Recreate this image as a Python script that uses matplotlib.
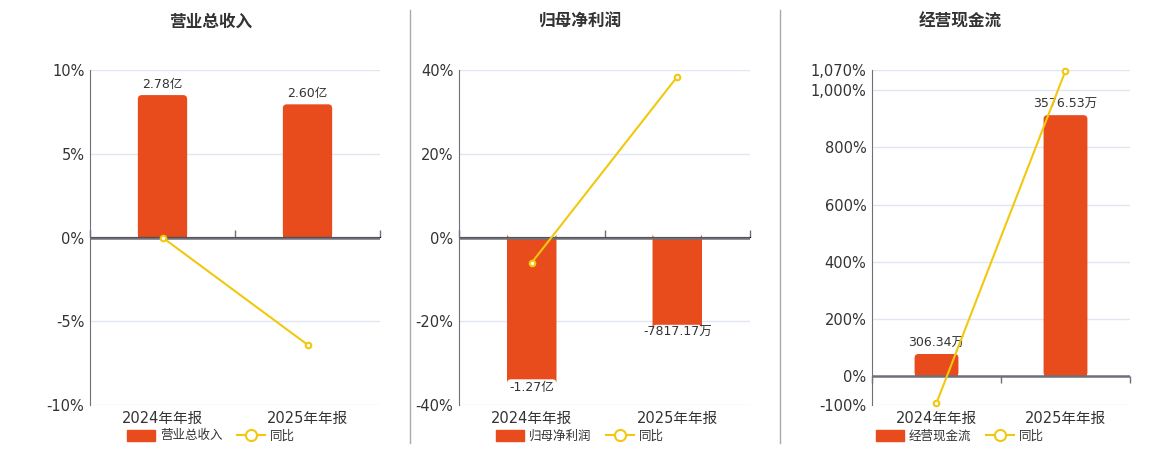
import matplotlib.pyplot as plt
from matplotlib.lines import Line2D
from matplotlib.patches import Patch, FancyBboxPatch
from matplotlib.ticker import FuncFormatter

plt.rcParams['font.family'] = ['DejaVu Sans', 'Noto Sans CJK SC']

# =====================
# DATA
# =====================

periods = ["2024年年报", "2025年年报"]

titles = ["营业总收入", "归母净利润", "经营现金流"]

# bar values (in 亿 for revenue/profit, 万 for cash flow)
revenue = [2.78, 2.60]
profit = [-1.27, -0.781717]
cashflow = [306.34, 3576.53]

bar_labels = [
    ["2.78亿", "2.60亿"],
    ["-1.27亿", "-7817.17万"],
    ["306.34万", "3576.53万"],
]

# year-on-year, percent
yoy_revenue = [0.0, -6.4]
yoy_profit = [-6.0, 38.4]
yoy_cashflow = [-93.0, 1067.5]

pct_ticks = [
    [-10, -5, 0, 5, 10],
    [-40, -20, 0, 20, 40],
    [-100, 0, 200, 400, 600, 800, 1000, 1070],
]

bar_tops = [3.27, 1.50, 4195]

# =====================
# PLOT
# =====================

BAR = "#e84c1c"
LINE = "#f2c80f"
AXC = "#6e7079"
GRID = "#e0e6f1"
TXT = "#333333"

fig = plt.figure(figsize=(11.6, 4.5), dpi=100)

rects = [
    [90 / 1160, 0.1, 290 / 1160, 335 / 450],
    [459 / 1160, 0.1, 291 / 1160, 335 / 450],
    [872 / 1160, 0.1, 258 / 1160, 335 / 450],
]
centers = [211, 580, 960]

bars_all = [revenue, profit, cashflow]
yoy_all = [yoy_revenue, yoy_profit, yoy_cashflow]

for i in range(3):
    ax = fig.add_axes(rects[i])
    ax2 = ax.twinx()
    ax.set_zorder(ax2.get_zorder() + 1)
    ax.patch.set_visible(False)

    ticks = pct_ticks[i]
    lo, hi = ticks[0], ticks[-1]
    ax.set_ylim(lo, hi)
    ax.set_xlim(-0.5, 1.5)
    ax.set_yticks(ticks)
    ax.yaxis.set_major_formatter(FuncFormatter(lambda v, p: f"{v:,.0f}%"))
    ax.tick_params(axis="y", length=0, labelsize=10.5, labelcolor=TXT, pad=4)

    ax.set_xticks(range(len(periods)))
    ax.set_xticklabels(periods)
    ax.tick_params(axis="x", length=0, labelsize=10.5, labelcolor=TXT, pad=4)

    for s in ["top", "right", "bottom"]:
        ax.spines[s].set_visible(False)
    ax.spines["left"].set_color(AXC)

    # zero axis with category boundary ticks
    ax.axhline(0, color=AXC, lw=1.8, zorder=3)
    zero_frac = -lo / (hi - lo)
    sec = ax.secondary_xaxis(zero_frac)
    sec.set_xticks([-0.5, 0.5, 1.5])
    sec.set_xticklabels(["", "", ""])
    sec.tick_params(length=5, color=AXC, width=1)
    sec.spines["bottom"].set_visible(False)

    # bars on hidden axis, grid drawn there too so it sits behind the bars
    btop = bar_tops[i]
    blo = btop * lo / hi
    ax2.set_ylim(blo, btop)
    ax2.set_xlim(-0.5, 1.5)
    ax2.axis("off")
    for t in ticks:
        if t != 0:
            ax2.axhline(t * btop / hi, color=GRID, lw=1, zorder=0)

    vals = bars_all[i]
    bars = ax2.bar(range(len(vals)), vals, width=0.34, color=BAR, zorder=2)
    ax_w = rects[i][2] * 1160
    xu = 2.0 / ax_w
    yu = (btop - blo) / 335.0
    for r in bars:
        ax2.add_patch(FancyBboxPatch(
            (r.get_x(), r.get_y()), r.get_width(), r.get_height(),
            boxstyle=f"round,pad=0,rounding_size={4 * xu}",
            mutation_aspect=yu / xu, facecolor=BAR, edgecolor="none", zorder=2))
        r.set_height(r.get_height() / 2)

    for x, v, lab in zip(range(len(vals)), vals, bar_labels[i]):
        if v >= 0:
            ax2.annotate(lab, (x, v), xytext=(0, 3), textcoords="offset points",
                         ha="center", va="bottom", fontsize=9, color=TXT)
        else:
            ax2.annotate(lab, (x, v), xytext=(0, -1), textcoords="offset points",
                         ha="center", va="top", fontsize=9, color=TXT)

    ax.plot(range(len(vals)), yoy_all[i], color=LINE, lw=1.5, marker="o",
            markersize=4, markerfacecolor="white", markeredgecolor=LINE,
            markeredgewidth=1.5, zorder=5, clip_on=False)

    fig.text(centers[i] / 1160, 1 - 22 / 450, titles[i], ha="center", va="center",
             fontsize=12, fontweight="bold", color=TXT)

    handles = [
        Patch(facecolor=BAR, edgecolor=BAR),
        Line2D([0], [0], color=LINE, lw=1.5, marker="o", markersize=8,
               markerfacecolor="white", markeredgecolor=LINE, markeredgewidth=1.5),
    ]
    fig.legend(handles, [titles[i], "同比"], loc="center",
               bbox_to_anchor=(centers[i] / 1160, 1 - 436 / 450), ncol=2,
               frameon=False, fontsize=9, handlelength=2.2, handleheight=1.0,
               columnspacing=1.2, handletextpad=0.4, labelcolor=TXT)

# panel separators
for xs in [410, 780]:
    fig.add_artist(Line2D([xs / 1160, xs / 1160], [1 - 10 / 450, 1 - 443 / 450],
                          color="#aaaaaa", lw=1))

plt.savefig("out.png", dpi=100)
